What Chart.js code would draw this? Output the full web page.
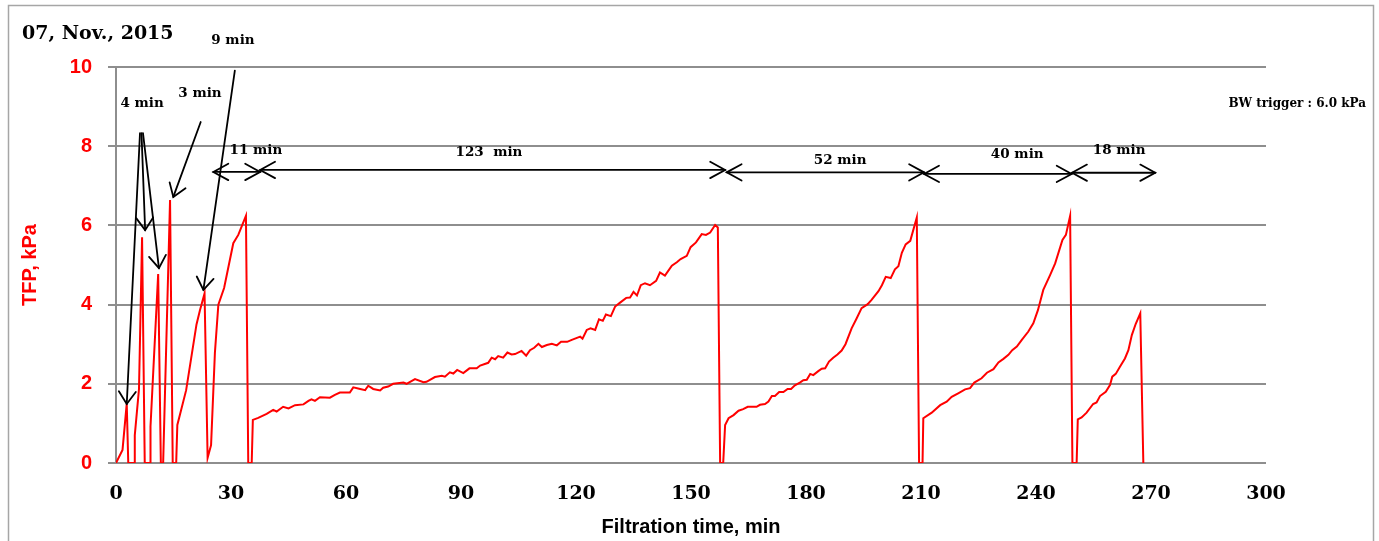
<!DOCTYPE html>
<html>
<head>
<meta charset="utf-8">
<script src="https://cdn.jsdelivr.net/npm/chart.js@4.4.1/dist/chart.umd.min.js"></script>
<style>
  html, body { margin: 0; padding: 0; background: #fff; }
  #wrap { width: 1379px; height: 541px; position: relative; }
</style>
</head>
<body>
<div id="wrap"><canvas id="tfp-chart"></canvas></div>
<script>
// filtration time (min) and TFP (kPa)
const timeMin = [
  0, 1.7, 2.8, 3.2, 4.8, 4.9, 6.0, 6.8, 7.5, 8.9, 9.0, 11.0, 11.7, 12.3, 14.1, 14.8,
  15.7, 16.0, 18.3, 21.0, 21.9, 23.1, 23.9, 24.8, 25.8, 26.7, 28.2, 30.6, 31.9, 33.9, 34.5,
  35.4, 35.7, 37.1, 39.3, 41.0, 41.9, 43.6, 45.0, 46.7, 48.9, 50.2, 51.0, 51.9, 53.2, 55.8,
  57.1, 58.4, 61.0, 61.9, 63.7, 65.0, 65.8, 67.1, 68.9, 69.7, 71.0, 72.3, 75.0, 75.8, 78.0,
  80.2, 81.0, 83.2, 85.0, 85.8, 87.1, 88.0, 89.0, 90.6, 92.2, 94.1, 95.0, 97.1, 98.0, 98.9,
  99.7, 101.0, 102.1, 103.2, 104.1, 105.8, 107.0, 108.0, 109.1, 110.2, 111.1, 112.4, 113.7,
  115.0, 116.1, 117.7, 118.9, 121.1, 121.7, 122.8, 123.8, 125.0, 126.0, 127.0, 127.8, 129.1,
  130.2, 131.5, 133.1, 134.1, 135.0, 135.9, 136.9, 138.0, 139.3, 140.9, 141.9, 143.2, 145.0,
  146.3, 147.3, 148.9, 149.9, 151.3, 152.8, 153.9, 155.0, 156.3, 157.0, 157.6,
  158.4, 158.9, 159.8, 161.1, 162.4, 163.6, 164.8, 167.1, 168.0, 169.3, 170.2, 171.1, 171.9,
  173.0, 174.1, 175.2, 176.1, 177.1, 178.4, 179.3, 180.2, 181.1, 181.9, 183.2, 184.1, 185.0,
  186.0, 187.1, 188.2, 189.3, 190.3, 191.9, 193.2, 194.5, 196.1, 197.1, 198.9, 199.8, 200.8,
  202.1, 203.2, 204.1, 205.0, 206.0, 207.2, 208.9, 209.5,
  210.4, 210.6, 212.8, 215.0, 216.7, 218.0, 219.7, 221.5, 222.8, 223.9, 225.8, 227.2, 228.9,
  230.2, 231.5, 232.8, 233.8, 235.0, 236.3, 238.0, 239.3, 240.5, 241.9, 243.7, 245.0, 246.9,
  247.8, 248.9, 249.5,
  250.6, 250.9, 251.9, 253.2, 254.9, 255.8, 256.7, 258.2, 259.3, 259.9, 260.8, 261.9, 263.2,
  264.1, 265.0, 266.0, 267.2, 268.0
];
const tfpKpa = [
  0, 0.33, 1.5, 0, 0, 0.7, 1.87, 5.7, 0, 0, 0.92, 4.77, 0, 0, 6.64, 0,
  0, 0.96, 1.84, 3.5, 3.86, 4.28, 0.13, 0.45, 2.78, 4.0, 4.42, 5.55, 5.76, 6.24, 0,
  0, 1.09, 1.14, 1.24, 1.34, 1.30, 1.42, 1.38, 1.46, 1.48, 1.57, 1.61, 1.57, 1.66, 1.65,
  1.72, 1.78, 1.78, 1.91, 1.87, 1.84, 1.95, 1.87, 1.83, 1.90, 1.93, 2.00, 2.03, 2.00, 2.12,
  2.04, 2.05, 2.17, 2.20, 2.18, 2.29, 2.26, 2.35, 2.27, 2.39, 2.39, 2.46, 2.53, 2.66, 2.62,
  2.70, 2.66, 2.79, 2.74, 2.75, 2.83, 2.71, 2.85, 2.91, 3.01, 2.93, 2.98, 3.01,
  2.97, 3.06, 3.06, 3.11, 3.19, 3.14, 3.36, 3.40, 3.36, 3.63, 3.59, 3.75, 3.71,
  3.95, 4.05, 4.17, 4.18, 4.32, 4.23, 4.49, 4.54, 4.49, 4.60, 4.81, 4.73, 4.98,
  5.07, 5.15, 5.23, 5.45, 5.57, 5.78, 5.76, 5.82, 6.01, 5.95, 0,
  0, 0.96, 1.13, 1.21, 1.32, 1.36, 1.42, 1.42, 1.47, 1.49, 1.55, 1.69, 1.69,
  1.79, 1.79, 1.87, 1.87, 1.96, 2.03, 2.09, 2.10, 2.25, 2.22, 2.32, 2.38, 2.39,
  2.56, 2.66, 2.74, 2.84, 3.00, 3.40, 3.65, 3.91, 4.01, 4.12, 4.34, 4.49, 4.70,
  4.67, 4.89, 4.97, 5.31, 5.52, 5.61, 6.20, 0,
  0, 1.13, 1.27, 1.46, 1.55, 1.67, 1.76, 1.86, 1.89, 2.03, 2.14, 2.28, 2.37,
  2.54, 2.63, 2.73, 2.85, 2.94, 3.11, 3.32, 3.53, 3.86, 4.37, 4.75, 5.04, 5.63,
  5.76, 6.24, 0,
  0, 1.10, 1.15, 1.27, 1.49, 1.53, 1.69, 1.80, 1.97, 2.18, 2.25, 2.43, 2.64,
  2.85, 3.23, 3.51, 3.78, 0
];
const xTicks = [0, 30, 60, 90, 120, 150, 180, 210, 240, 270, 300];
const yTicks = [0, 2, 4, 6, 8, 10];

// cycle durations drawn as double arrows: [from, to, level, label]
const cycleSpans = [
  [25.4, 37.6, 7.35, '11 min'],
  [37.6, 158.9, 7.40, '123  min'],
  [159.3, 210.8, 7.34, '52 min'],
  [210.8, 249.3, 7.30, '40 min'],
  [249.4, 271.1, 7.33, '18 min']
];
const spanLabelPos = [[36.5, 7.88], [97.3, 7.83], [188.9, 7.65], [235.1, 7.80], [261.7, 7.88]];
// pointer arrows to the short early cycles: [x0, y0, x1, y1]
const pointers = [
  [6.26, 8.33, 2.8, 1.49],
  [6.65, 8.33, 7.6, 5.88],
  [7.04, 8.33, 11.2, 4.92],
  [22.1, 8.61, 14.95, 6.72],
  [31.0, 9.91, 22.8, 4.37]
];
const pointerLabels = [['4 min', 6.8, 9.09], ['3 min', 21.9, 9.34], ['9 min', 30.5, 10.66]];

const points = timeMin.map((t, i) => ({ x: t, y: tfpKpa[i] }));

function arrowHead(ctx, fx, fy, tx, ty, len, ang) {
  const a = Math.atan2(ty - fy, tx - fx);
  ctx.beginPath();
  ctx.moveTo(tx - len * Math.cos(a - ang), ty - len * Math.sin(a - ang));
  ctx.lineTo(tx, ty);
  ctx.lineTo(tx - len * Math.cos(a + ang), ty - len * Math.sin(a + ang));
  ctx.stroke();
}

const annotations = {
  id: 'annotations',
  beforeDraw(chart) {
    const ctx = chart.ctx;
    ctx.save();
    ctx.strokeStyle = '#a6a6a6';
    ctx.lineWidth = 1.5;
    ctx.strokeRect(8.5, 5.5, 1365, 600);
    ctx.restore();
  },
  afterDraw(chart) {
    const { ctx, scales: { x, y } } = chart;
    ctx.save();
    ctx.strokeStyle = '#000';
    ctx.lineWidth = 1.8;
    ctx.lineCap = 'round';

    pointers.forEach(p => {
      const x0 = x.getPixelForValue(p[0]), y0 = y.getPixelForValue(p[1]);
      const x1 = x.getPixelForValue(p[2]), y1 = y.getPixelForValue(p[3]);
      ctx.beginPath();
      ctx.moveTo(x0, y0);
      ctx.lineTo(x1, y1);
      ctx.stroke();
      arrowHead(ctx, x0, y0, x1, y1, 15, 0.6);
    });

    cycleSpans.forEach(s => {
      const x0 = x.getPixelForValue(s[0]), x1 = x.getPixelForValue(s[1]);
      const yy = y.getPixelForValue(s[2]);
      ctx.beginPath();
      ctx.moveTo(x0, yy);
      ctx.lineTo(x1, yy);
      ctx.stroke();
      arrowHead(ctx, x1, yy, x0, yy, 17, 0.5);
      arrowHead(ctx, x0, yy, x1, yy, 17, 0.5);
    });

    ctx.fillStyle = '#000';
    ctx.textAlign = 'center';
    ctx.textBaseline = 'middle';
    ctx.font = 'bold 13.5px "DejaVu Serif"';
    cycleSpans.forEach((s, i) => {
      ctx.fillText(s[3], x.getPixelForValue(spanLabelPos[i][0]), y.getPixelForValue(spanLabelPos[i][1]));
    });
    pointerLabels.forEach(l => {
      ctx.fillText(l[0], x.getPixelForValue(l[1]), y.getPixelForValue(l[2]));
    });

    ctx.font = 'bold 12px "DejaVu Serif"';
    ctx.textAlign = 'right';
    ctx.fillText('BW trigger : 6.0 kPa', chart.chartArea.right + 100, y.getPixelForValue(9.07));

    ctx.font = 'bold 19px "DejaVu Serif"';
    ctx.textAlign = 'left';
    ctx.fillText('07, Nov., 2015', 22, 34);
    ctx.restore();
  }
};

const tfpChart = new Chart(document.getElementById('tfp-chart'), {
  type: 'line',
  data: {
    datasets: [{
      label: 'TFP',
      data: points,
      borderColor: '#ff0000',
      borderWidth: 2,
      pointRadius: 0,
      tension: 0,
      fill: false
    }]
  },
  options: {
    responsive: true,
    maintainAspectRatio: false,
    animation: false,
    layout: { padding: { left: 10, right: 113, top: 67, bottom: 0 } },
    plugins: {
      legend: { display: false },
      tooltip: { enabled: false }
    },
    scales: {
      x: {
        type: 'linear',
        min: 0,
        max: 300,
        afterFit: s => { s.height = 78; },
        afterBuildTicks: s => { s.ticks = xTicks.map(v => ({ value: v })); },
        grid: { display: false, drawTicks: false },
        border: { display: false },
        ticks: {
          color: '#000',
          padding: 20,
          maxRotation: 0,
          font: { family: 'DejaVu Serif', weight: 'bold', size: 19 }
        },
        title: {
          display: true,
          text: 'Filtration time, min',
          color: '#000',
          padding: { top: 0, bottom: 2 },
          font: { family: 'Liberation Sans', weight: 'bold', size: 20 }
        }
      },
      y: {
        min: 0,
        max: 10,
        afterFit: s => { s.width = 106; },
        afterBuildTicks: s => { s.ticks = yTicks.map(v => ({ value: v })); },
        grid: { color: '#8e8e8e', lineWidth: 2, tickLength: 8 },
        border: { color: '#8e8e8e', width: 2 },
        ticks: {
          color: '#ff0000',
          padding: 16,
          font: { family: 'Liberation Sans', weight: 'bold', size: 20 }
        },
        title: {
          display: true,
          text: 'TFP, kPa',
          color: '#ff0000',
          padding: { top: 8, bottom: 0 },
          font: { family: 'Liberation Sans', weight: 'bold', size: 20 }
        }
      }
    }
  },
  plugins: [annotations]
});
</script>
</body>
</html>
